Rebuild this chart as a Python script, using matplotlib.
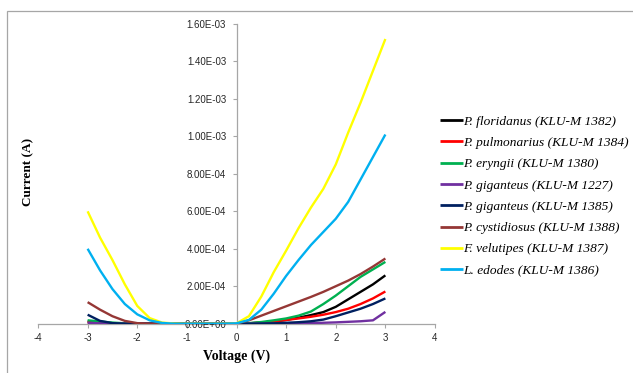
import matplotlib
matplotlib.use("Agg")
import matplotlib.pyplot as plt
from matplotlib.patches import Rectangle
from matplotlib.ticker import FuncFormatter
import numpy as np

voltage = [-3.0, -2.75, -2.5, -2.25, -2.0, -1.75, -1.5, -1.25, -1.0, -0.75, -0.5, -0.25,
           0.0, 0.25, 0.5, 0.75, 1.0, 1.25, 1.5, 1.75, 2.0, 2.25, 2.5, 2.75, 3.0]

p_floridanus = [1.2e-5, 6e-6, 2e-6, 0, 0, 0, 0, 0, 0, 0, 0, 0,
                0, 2e-6, 6e-6, 1.2e-5, 2e-5, 3.2e-5, 4.6e-5, 6.2e-5, 9e-5, 1.3e-4, 1.7e-4, 2.1e-4, 2.58e-4]
p_pulmonarius = [8e-6, 4e-6, 1e-6, 0, 0, 0, 0, 0, 0, 0, 0, 0,
                 0, 2e-6, 6e-6, 1.2e-5, 2e-5, 2.8e-5, 3.7e-5, 4.8e-5, 6.2e-5, 8e-5, 1.05e-4, 1.35e-4, 1.72e-4]
p_eryngii = [1.8e-5, 1.2e-5, 6e-6, 2e-6, 0, 0, 0, 0, 0, 0, 0, 0,
             0, 3e-6, 9e-6, 1.8e-5, 2.8e-5, 4.3e-5, 6.5e-5, 1.05e-4, 1.5e-4, 2.0e-4, 2.5e-4, 2.9e-4, 3.3e-4]
p_giganteus_1227 = [5e-6, 2e-6, 0, 0, 0, 0, 0, 0, 0, 0, 0, 0,
                    0, 0, 0, 0, 1e-6, 2e-6, 3e-6, 5e-6, 7e-6, 1e-5, 1.3e-5, 1.8e-5, 6.3e-5]
p_giganteus_1385 = [4.8e-5, 1.5e-5, 3e-6, 0, 0, 0, 0, 0, 0, 0, 0, 0,
                    0, 0, 1e-6, 2e-6, 5e-6, 8e-6, 1.3e-5, 2.2e-5, 4e-5, 6e-5, 8e-5, 1.05e-4, 1.35e-4]
p_cystidiosus = [1.15e-4, 7.5e-5, 4e-5, 1.5e-5, 3e-6, 0, 0, 0, 0, 0, 0, 0,
                 0, 1.8e-5, 4.3e-5, 6.8e-5, 9.3e-5, 1.18e-4, 1.43e-4, 1.7e-4, 2.0e-4, 2.3e-4, 2.65e-4, 3.05e-4, 3.48e-4]
f_velutipes = [6.0e-4, 4.6e-4, 3.4e-4, 2.1e-4, 9.5e-5, 3e-5, 6e-6, 1e-6, 0, 0, 0, 0,
               2e-6, 4e-5, 1.45e-4, 2.75e-4, 3.9e-4, 5.1e-4, 6.2e-4, 7.2e-4, 8.5e-4, 1.02e-3, 1.18e-3, 1.35e-3, 1.52e-3]
l_edodes = [4.0e-4, 2.85e-4, 1.85e-4, 1.05e-4, 5e-5, 1.8e-5, 4e-6, 0, 0, 0, 0, 0,
            2e-6, 2e-5, 7.5e-5, 1.6e-4, 2.55e-4, 3.4e-4, 4.2e-4, 4.9e-4, 5.6e-4, 6.5e-4, 7.7e-4, 8.9e-4, 1.01e-3]

labels = ["P. floridanus (KLU-M 1382)", "P. pulmonarius (KLU-M 1384)", "P. eryngii (KLU-M 1380)",
          "P. giganteus (KLU-M 1227)", "P. giganteus (KLU-M 1385)", "P. cystidiosus (KLU-M 1388)",
          "F. velutipes (KLU-M 1387)", "L. edodes (KLU-M 1386)"]
series = [p_floridanus, p_pulmonarius, p_eryngii, p_giganteus_1227, p_giganteus_1385,
          p_cystidiosus, f_velutipes, l_edodes]
colors = ["#000000", "#ff0000", "#00b050", "#7030a0", "#002060", "#953735", "#ffff00", "#00b0f0"]

x_ticks = [-4, -3, -2, -1, 0, 1, 2, 3, 4]
y_ticks = [0, 2e-4, 4e-4, 6e-4, 8e-4, 1.0e-3, 1.2e-3, 1.4e-3, 1.6e-3]

fig = plt.figure(figsize=(6.33, 3.73), dpi=100)
ax = fig.add_axes([38/633, 1-323.7/373, (435-38)/633, (323.7-24)/373])

for s, c, lab in zip(series, colors, labels):
    ax.plot(voltage, s, color=c, lw=1.7, label=lab, solid_joinstyle="round",
            solid_capstyle="butt", zorder=3)

ax.set_xlim(-4, 4)
ax.set_ylim(0, 1.6e-3)
ax.set_xticks(x_ticks)
ax.set_yticks(y_ticks)

ax.yaxis.set_major_formatter(FuncFormatter(lambda v, p: "%.2E" % v))
ax.xaxis.set_major_formatter(FuncFormatter(lambda v, p: "%d" % v))

for sp in ["top", "right"]:
    ax.spines[sp].set_visible(False)
ax.spines["left"].set_position(("data", 0))
for sp in ["left", "bottom"]:
    ax.spines[sp].set_color("#a6a6a6")
    ax.spines[sp].set_linewidth(0.9)
    ax.spines[sp].set_zorder(1)

ax.tick_params(axis="both", direction="out", length=3, width=0.8, color="#a6a6a6",
               labelcolor="#262626", labelsize=7)
ax.tick_params(axis="y", pad=4.5)
ax.tick_params(axis="x", pad=4)
for t in ax.get_xticklabels() + ax.get_yticklabels():
    t.set_fontfamily("Liberation Sans")

fig.text(28/633, 1-172/373, "Current (A)", rotation=90, ha="center", va="center",
         family="Liberation Serif", weight="bold", size=9.5)
fig.text(237/633, 1-356/373, "Voltage (V)", ha="center", va="center",
         family="Liberation Serif", weight="bold", size=10)

leg = fig.legend(loc="upper left", bbox_to_anchor=(440/633, 1-115.5/373),
                 bbox_transform=fig.transFigure, frameon=False,
                 prop={"family": "Liberation Serif", "style": "italic", "size": 9.6},
                 handlelength=1.7, handletextpad=0.05, labelspacing=0.67,
                 borderpad=0, borderaxespad=0)
for line in leg.get_lines():
    line.set_linewidth(2.0)

fig.patches.append(Rectangle((7/633, -0.2), 1.5, 1.2 - 11/373, transform=fig.transFigure,
                             fill=False, edgecolor="#a6a6a6", lw=0.9, figure=fig))

fig.savefig("out.png", dpi=100)
